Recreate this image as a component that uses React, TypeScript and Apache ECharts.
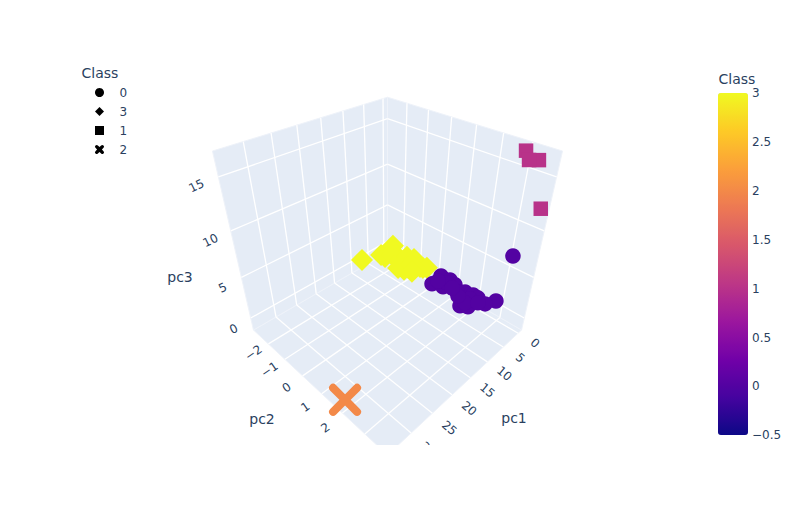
import React, { useEffect, useRef } from "react";
import * as echarts from "echarts";

// [pc1, pc2, pc3] for each class
const class0 = [
  [3.34, 0.35, 0], [0, 0.28, 0], [2.49, 0.77, 0], [-0.29, 0.69, 0], [0.25, 1.02, 0],
  [0.6, 1.56, 0], [1.73, 1.34, 0], [0.2, 1.88, 0], [2.48, 1.69, 0], [0.25, 2.11, 0],
  [2.05, 2.09, 0], [-1.5, 2.69, 0], [0.72, 2.5, 0], [4.63, 1.91, 0], [3.77, 2.15, 0],
  [0.91, 0.73, 0], [1.6, 1.93, 0], [3.26, 1.94, 0], [2.56, 1.51, 0], [1.45, 1.06, 0],
  [1.46, 2.28, 0], [1.72, 0.4, 0],
  [2.85, 3.44, 7.77],
];
const class3 = [
  [7.89, -2.75, 0], [3.62, -2.44, 0], [3.52, -2.22, 0], [-0.8, -2.56, 0], [0.9, -2.24, 0],
  [1.9, -2.11, 0], [1.98, -1.62, 0], [0.07, -1.57, 0], [-0.47, -1.26, 0], [3.97, -1.04, 0],
  [2.6, -1.06, 0], [4.38, -1.3, 0], [0.78, -0.71, 0], [0.6, -0.58, 0], [-0.02, -0.47, 0],
  [1.61, -1.07, 0], [1.8, -0.81, 0], [3.29, -0.72, 0],
];
const class1 = [
  [0.98, 3.05, 16.8], [0.18, 3.42, 16.2], [0.1, 3.11, 15.93], [0.6, 3.82, 12.4],
];
const class2 = [[34.6, 2.06, 0]];

const pc1Ticks = [0, 5, 10, 15, 20, 25, 30];
const pc2Ticks = [-2, -1, 0, 1, 2, 3];
const pc3Ticks = [0, 5, 10, 15];
const colorTicks = [-0.5, 0, 0.5, 1, 1.5, 2, 2.5, 3];
const legendOrder = ["0", "3", "1", "2"];
const plasma = ["#0d0887", "#46039f", "#7201a8", "#9c179e", "#bd3786", "#d8576b", "#ed7953", "#fb9f3a", "#fdca26", "#f0f921"];

const pc1Range = [-1.2, 35.1];
const pc2Range = [-2.97, 3.93];
const pc3Range = [-1.61, 17.15];

const FONT = '"DejaVu Sans", Verdana, sans-serif';
const INK = "#2a3f5f";
const PANE = "#E5ECF6";
const CROSS =
  "path://M6.83 1.17 L16 10.34 L25.17 1.17 A4 4 0 0 1 30.83 6.83 L21.66 16 L30.83 25.17 A4 4 0 0 1 25.17 30.83 L16 21.66 L6.83 30.83 A4 4 0 0 1 1.17 25.17 L10.34 16 L1.17 6.83 A4 4 0 0 1 6.83 1.17 Z";
const CROSS_FAT =
  "path://M10.24 1.76 L16 7.51 L21.76 1.76 A6 6 0 0 1 30.24 10.24 L24.49 16 L30.24 21.76 A6 6 0 0 1 21.76 30.24 L16 24.49 L10.24 30.24 A6 6 0 0 1 1.76 21.76 L7.51 16 L1.76 10.24 A6 6 0 0 1 10.24 1.76 Z";
const SQUARE = "path://M0 0 H10 V10 H0 Z";
const DIAMOND = "path://M6 0 L12 6 L6 12 L0 6 Z";

const norm = (v: number, r: number[]) => (2 * (v - r[0])) / (r[1] - r[0]) - 1;

// Perspective camera of the 3D scene, working on a cube of [-1, 1]
function cube(a: number, b: number, c: number): number[] {
  const w = 1 - 0.1327 * (a + b + c);
  return [387.5 + (75.9 * (b - a)) / w, 252.4 - (87.9 * c - 43.95 * (a + b)) / w];
}
function project(p: number[]): number[] {
  return cube(norm(p[0], pc1Range), norm(p[1], pc2Range), norm(p[2], pc3Range));
}

const pane = (pts: number[][]) => ({
  type: "polygon",
  silent: true,
  shape: { points: pts.map((q) => cube(q[0], q[1], q[2])) },
  style: { fill: PANE, stroke: "#eef2f9", lineWidth: 1 },
});
const gridLine = (p: number[], q: number[]) => {
  const [x1, y1] = cube(p[0], p[1], p[2]);
  const [x2, y2] = cube(q[0], q[1], q[2]);
  return { type: "line", silent: true, shape: { x1, y1, x2, y2 }, style: { stroke: "#fff", lineWidth: 1.3 } };
};
const label = (text: string, x: number, y: number, rotation: number, size = 12) => ({
  type: "text",
  silent: true,
  x,
  y,
  rotation,
  style: { text, x: 0, y: 0, fill: INK, font: `${size}px ${FONT}`, align: "center", verticalAlign: "middle" },
});
const minus = (v: number) => String(v).replace("-", "\u2212");

function buildGraphic() {
  const els: any[] = [];
  els.push(pane([[-1, -1, -1], [1, -1, -1], [1, 1, -1], [-1, 1, -1]]));
  els.push(pane([[-1, -1, -1], [1, -1, -1], [1, -1, 1], [-1, -1, 1]]));
  els.push(pane([[-1, -1, -1], [-1, 1, -1], [-1, 1, 1], [-1, -1, 1]]));
  for (const t of pc1Ticks) {
    const a = norm(t, pc1Range);
    els.push(gridLine([a, -1, -1], [a, 1, -1]), gridLine([a, -1, -1], [a, -1, 1]));
  }
  for (const t of pc2Ticks) {
    const b = norm(t, pc2Range);
    els.push(gridLine([-1, b, -1], [1, b, -1]), gridLine([-1, b, -1], [-1, b, 1]));
  }
  for (const t of pc3Ticks) {
    const c = norm(t, pc3Range);
    els.push(gridLine([-1, -1, c], [1, -1, c]), gridLine([-1, -1, c], [-1, 1, c]));
  }
  for (const t of pc1Ticks) {
    const [x, y] = project([t, pc2Range[1], pc3Range[0]]);
    els.push(label(minus(t), x + 17, y + 10 + (y - 333) * 0.06, -0.7));
  }
  for (const t of pc2Ticks) {
    const [x, y] = project([pc1Range[1], t, pc3Range[0]]);
    els.push(label(minus(t), x - 15 - ((y - 344) * 2) / 70, y + 9 + (y - 344) * 0.085, 0.6));
  }
  for (const t of pc3Ticks) {
    const [x, y] = project([pc1Range[1], pc2Range[0], t]);
    els.push(label(minus(t), x - 17 - (t / 15) * 5, y + 11 - (t / 15) * 2, 0.45));
  }
  // the scene's viewport ends here
  els.push({ type: "rect", silent: true, shape: { x: 0, y: 445, width: 800, height: 80 }, style: { fill: "#fff" } });
  els.push(label("pc1", 514, 418, 0, 14), label("pc2", 262, 419, 0, 14), label("pc3", 180, 277, 0, 14));
  els.push(label("Class", 100, 73, 0, 14), label("Class", 737, 79, 0, 14));
  for (const t of colorTicks) {
    const y = 435.3 - ((t + 0.5) / 3.5) * 342;
    els.push({
      type: "text",
      silent: true,
      x: 752,
      y,
      style: { text: minus(t), fill: INK, font: `12px ${FONT}`, align: "left", verticalAlign: "middle" },
    });
  }
  return els;
}

const series = (name: string, rows: number[][], cls: number, symbol: string, symbolSize: number) => ({
  type: "scatter",
  name,
  symbol,
  symbolSize,
  silent: true,
  itemStyle: { opacity: 1 },
  data: rows.map((r) => [...project(r), cls]),
});

export default function App() {
  const ref = useRef<HTMLDivElement>(null);
  useEffect(() => {
    document.body.style.margin = "0";
    const chart = echarts.init(ref.current!, null, { renderer: "svg" });
    const black = { color: "#000", opacity: 1 };
    chart.setOption({
      animation: false,
      backgroundColor: "#fff",
      grid: { left: 0, right: 0, top: 0, bottom: 0 },
      xAxis: { type: "value", min: 0, max: 800, show: false },
      yAxis: { type: "value", min: 0, max: 525, inverse: true, show: false },
      visualMap: {
        type: "continuous",
        min: -0.5,
        max: 3,
        dimension: 2,
        seriesIndex: [0, 1, 2, 3],
        inRange: { color: plasma },
        calculable: false,
        realtime: false,
        left: 718,
        top: 93,
        padding: 0,
        itemWidth: 30,
        itemHeight: 342,
        text: ["", ""],
        textGap: 0,
        showLabel: false,
      },
      legend: {
        left: 95,
        top: 85.5,
        orient: "vertical",
        itemWidth: 30,
        itemHeight: 9,
        itemGap: 5,
        padding: 0,
        selectedMode: false,
        textStyle: { color: INK, fontSize: 12, fontFamily: FONT, lineHeight: 14 },
        data: [
          { name: legendOrder[0], icon: "circle", itemStyle: black },
          { name: legendOrder[1], icon: DIAMOND, itemStyle: black },
          { name: legendOrder[2], icon: SQUARE, itemStyle: black },
          { name: legendOrder[3], icon: CROSS_FAT, itemStyle: black },
        ],
      },
      graphic: { elements: buildGraphic() },
      series: [
        series("3", class3, 3, "diamond", 22),
        series("0", class0, 0, "circle", 15.5),
        series("1", class1, 1, "rect", 14.5),
        series("2", class2, 2, CROSS, 32),
      ],
    });
    return () => chart.dispose();
  }, []);
  return <div ref={ref} style={{ width: 800, height: 525 }} />;
}
